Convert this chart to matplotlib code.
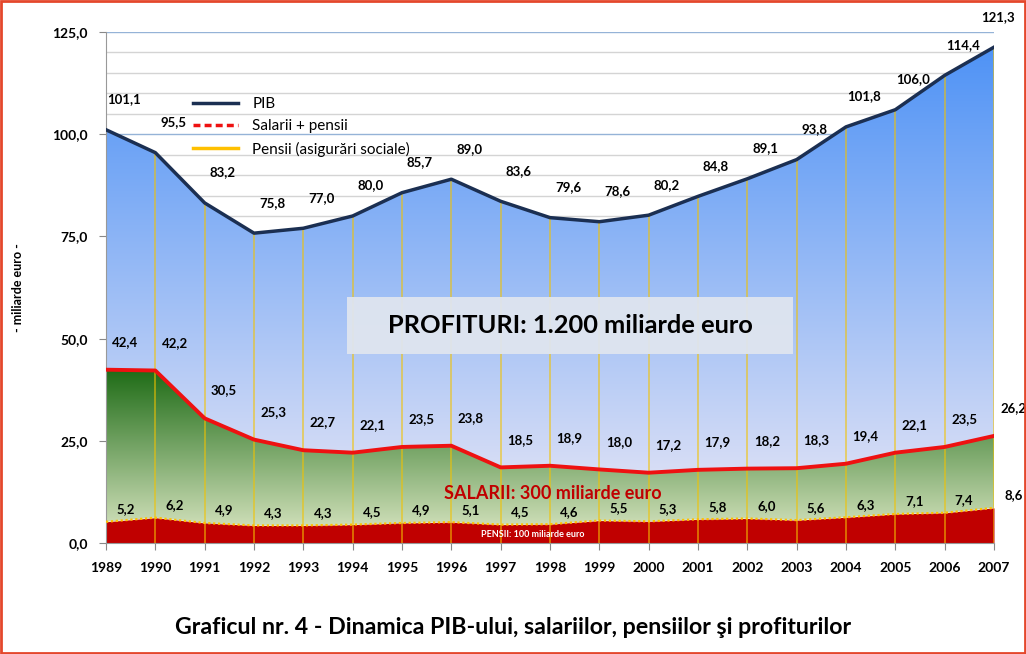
import numpy as np
import matplotlib
matplotlib.use('Agg')
import matplotlib.pyplot as plt
from matplotlib.colors import to_rgb
from matplotlib.lines import Line2D
from matplotlib.patches import Rectangle
from matplotlib.ticker import FuncFormatter, MultipleLocator

# data (miliarde euro)
years = list(range(1989, 2008))
pib = [101.1, 95.5, 83.2, 75.8, 77.0, 80.0, 85.7, 89.0, 83.6, 79.6,
       78.6, 80.2, 84.8, 89.1, 93.8, 101.8, 106.0, 114.4, 121.3]
salarii_pensii = [42.4, 42.2, 30.5, 25.3, 22.7, 22.1, 23.5, 23.8, 18.5, 18.9,
                  18.0, 17.2, 17.9, 18.2, 18.3, 19.4, 22.1, 23.5, 26.2]
pensii = [5.2, 6.2, 4.9, 4.3, 4.3, 4.5, 4.9, 5.1, 4.5, 4.6,
          5.5, 5.3, 5.8, 6.0, 5.6, 6.3, 7.1, 7.4, 8.6]

plt.rcParams['font.family'] = ['Lato', 'DejaVu Sans']
plt.rcParams['font.weight'] = 'bold'

fig = plt.figure(figsize=(10.26, 6.54), dpi=100)
ax = fig.add_axes([0.1033, 0.1697, 0.8655, 0.7813])


def gradient_fill(x, y1, y2, c_top, c_bot, v_top, v_bot, z):
    poly = ax.fill_between(x, y1, y2, facecolor='none', edgecolor='none', zorder=z)
    t = np.linspace(0, 1, 256)[:, None]
    img = np.array(to_rgb(c_top)) * (1 - t) + np.array(to_rgb(c_bot)) * t
    im = ax.imshow(img.reshape(256, 1, 3), extent=[x[0], x[-1], v_bot, v_top],
                   aspect='auto', origin='upper', zorder=z, interpolation='bilinear')
    im.set_clip_path(poly.get_paths()[0], transform=ax.transData)


gradient_fill(years, salarii_pensii, pib, '#4a90f5', '#eeeaf6', 125, 0, 1)
gradient_fill(years, pensii, salarii_pensii, '#1c6a14', '#e0eac8', 43, 0, 1.1)
ax.fill_between(years, 0, pensii, color='#c00000', lw=0, zorder=1.2)

# drop lines
ax.vlines(years, 0, pib, color='#f2c200', lw=1.2, alpha=0.65, zorder=2)

ax.plot(years, pib, color='#1b2f52', lw=2.5, zorder=5)
ax.plot(years, salarii_pensii, color='#ee1111', lw=2.8, zorder=5)
ax.plot(years, pensii, color='#ffc000', lw=1.6, ls=(0, (1, 1.2)), zorder=5)

ax.set_xlim(1989, 2007)
ax.set_ylim(0, 125)
ax.set_xticks(years)
ax.yaxis.set_major_locator(MultipleLocator(25))
ax.yaxis.set_minor_locator(MultipleLocator(5))
ax.yaxis.set_major_formatter(FuncFormatter(lambda v, p: f'{v:.1f}'.replace('.', ',')))
ax.grid(axis='y', which='major', color='#95b3d7', lw=1, zorder=0)
ax.grid(axis='y', which='minor', color='#d4d4d4', lw=1, zorder=0)
ax.set_axisbelow(True)
ax.tick_params(axis='y', which='minor', length=0)
ax.tick_params(axis='both', which='major', length=5, color='#888888',
               labelsize=10, pad=8)
ax.tick_params(axis='x', pad=9)
for s in ['top', 'right']:
    ax.spines[s].set_visible(False)
for s in ['left', 'bottom']:
    ax.spines[s].set_color('#999999')


def fmt(v):
    return f'{v:.1f}'.replace('.', ',')


last = years[-1]
for x, v in zip(years, pib):
    dx = 3 if x == last else 13
    ax.annotate(fmt(v), (x, v), xytext=(dx, 22), textcoords='offset points',
                ha='center', va='center', fontsize=9.5, zorder=6)
for x, v in zip(years, salarii_pensii):
    ax.annotate(fmt(v), (x, v), xytext=(14, 20), textcoords='offset points',
                ha='center', va='center', fontsize=9.5, zorder=6)
for x, v in zip(years, pensii):
    ax.annotate(fmt(v), (x, v), xytext=(14, 9), textcoords='offset points',
                ha='center', va='center', fontsize=9.5, zorder=6)

handles = [Line2D([], [], color='#1b2f52', lw=2.5),
           Line2D([], [], color='#ee1111', lw=2.5, ls=(0, (2, 1.2))),
           Line2D([], [], color='#ffc000', lw=2.5)]
ax.legend(handles, ['PIB', 'Salarii + pensii', 'Pensii (asigurări sociale)'],
          loc='upper left', bbox_to_anchor=(0.082, 0.9), frameon=False,
          handlelength=3.0, handletextpad=0.9, labelspacing=0.55,
          prop={'size': 11, 'weight': 'normal'})

ax.add_patch(Rectangle((0.2714, 0.37), 0.5023, 0.1115, transform=ax.transAxes,
                       facecolor='#dfe5ef', edgecolor='none', alpha=0.95, zorder=7))
ax.text(0.5225, 0.4266, 'PROFITURI: 1.200 miliarde euro', transform=ax.transAxes,
        ha='center', va='center', fontsize=18.3, zorder=8)
ax.text(0.503, 0.0978, 'SALARII: 300 miliarde euro', transform=ax.transAxes,
        ha='center', va='center', fontsize=13, color='#c00000', zorder=8)
ax.text(0.481, 0.0157, 'PENSII: 100 miliarde euro', transform=ax.transAxes,
        ha='center', va='center', fontsize=6.5, color='white', zorder=8)

fig.text(0.0175, 0.56, '- miliarde euro -', rotation=90, ha='center', va='center',
         fontsize=9)
fig.text(0.5, 0.04, 'Graficul nr. 4 - Dinamica PIB-ului, salariilor, pensiilor şi profiturilor',
         ha='center', va='center', fontsize=16.7)
fig.patches.append(Rectangle((0.001, 0.001), 0.998, 0.998, transform=fig.transFigure,
                             fill=False, edgecolor='#e4472c', lw=2))

fig.savefig('out.png', dpi=100)
